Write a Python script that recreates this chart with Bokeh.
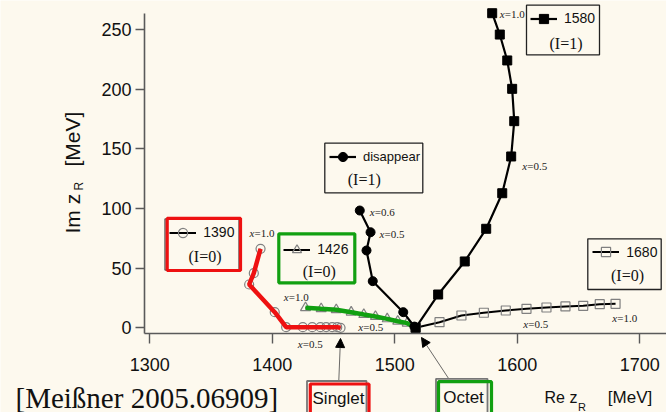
import math
from bokeh.plotting import figure
from bokeh.models import (Range1d, FixedTicker, Label, BoxAnnotation, Arrow,
                          NormalHead, Legend, LegendItem)
from bokeh.embed import file_html
from bokeh.resources import INLINE

# ---------------- data (Re z_R, Im z_R in MeV) ----------------
re_1580 = [1579.5, 1585.7, 1591.8, 1595.8, 1597.5, 1595.0, 1587.7, 1574.6, 1557.1, 1535.4, 1517.0]
im_1580 = [263.7, 245.8, 224.1, 200.3, 173.2, 143.6, 112.8, 83.0, 55.6, 27.9, 0.0]

re_1680 = [1517.0, 1536.5, 1554.4, 1572.7, 1590.6, 1607.5, 1623.8, 1639.3, 1653.8, 1667.3, 1680.2]
im_1680 = [0.0, 4.7, 10.3, 12.6, 14.5, 15.9, 17.0, 17.9, 18.4, 19.8, 20.1]

re_dis = [1471.4, 1480.2, 1476.9, 1482.0, 1506.9, 1516.0]
im_dis = [98.3, 80.1, 64.8, 39.1, 13.1, 1.0]

re_1390 = [1390.4, 1384.9, 1381.1, 1402.0, 1411.3, 1424.9, 1432.6, 1439.3, 1444.0, 1448.9, 1453.0, 1455.7]
im_1390 = [66.2, 45.8, 36.3, 13.1, 0.5, 0.5, 0.5, 0.5, 0.5, 0.5, 0.5, 0.0]

re_1426 = [1427.1, 1439.9, 1452.2, 1464.4, 1474.7, 1484.2, 1493.8, 1502.4, 1510.1, 1516.9]
im_1426 = [16.8, 15.9, 15.1, 13.1, 11.1, 9.5, 7.5, 5.5, 3.9, 0.3]

x_ticks = [1300, 1400, 1500, 1600, 1700]
y_ticks = [0, 50, 100, 150, 200, 250]

legend_names = ["1390", "1426", "disappear", "1580", "1680"]
isospin_tags = ["(I=0)", "(I=0)", "(I=1)", "(I=1)", "(I=0)"]
x_tags = ["1.0", "0.5", "0.6", "0.5", "1.0", "0.5", "1.0", "0.5", "0.5", "1.0"]

# ---------------- layout helpers ----------------
BG = "#fdf9ee"
INK = "#111111"
SANS = "Liberation Sans"
SERIF = "Liberation Serif"
W, H = 666, 412
AX_L, AX_B, AX_T = 144, 333, 13            # axis lines (pixels)
XMIN, XS = 1295.67, 1.225                  # value at AX_L, px per MeV
YMIN, YS = -4.78, 1.193                    # value at AX_B, px per MeV


def X(px):
    return XMIN + (px - AX_L) / XS


def Y(py):
    return YMIN + (AX_B - py) / YS


# the frame covers the whole canvas; axes are pinned with fixed_location
p = figure(width=W, height=H, output_backend="svg", toolbar_location=None,
           x_range=Range1d(X(0), X(W)), y_range=Range1d(Y(H), Y(0)),
           min_border=0, background_fill_color=BG,
           border_fill_color=BG, outline_line_color=None)
p.grid.visible = False

for ax in (p.xaxis[0], p.yaxis[0]):
    ax.axis_line_color = "#5a5a5a"
    ax.axis_line_width = 1.6
    ax.major_tick_line_color = "#5a5a5a"
    ax.major_tick_line_width = 1.4
    ax.major_tick_in = 0
    ax.minor_tick_line_color = None
    ax.major_label_text_font = SANS
    ax.major_label_text_font_size = "18px"
    ax.major_label_text_color = INK
p.xaxis.ticker = FixedTicker(ticks=x_ticks)
p.yaxis.ticker = FixedTicker(ticks=y_ticks)
p.xaxis.fixed_location = Y(AX_B)
p.yaxis.fixed_location = X(AX_L)
p.xaxis.bounds = (X(AX_L), X(W))
p.yaxis.bounds = (Y(AX_B), Y(AX_T))
p.xaxis.major_tick_out = 10
p.yaxis.major_tick_out = 9
p.xaxis.major_label_standoff = 14
p.yaxis.major_label_standoff = 4

# ---------------- trajectories ----------------
GRAY = "#808080"
l1390 = p.line(re_1390, im_1390, line_color="black", line_width=2)
m1390 = p.scatter(re_1390, im_1390, marker="circle", size=9, fill_color=None,
                  line_color=GRAY, line_width=1.2)
p.line(re_1390, im_1390, line_color="#ee1111", line_width=4.5)

l1426 = p.line(re_1426, im_1426, line_color="black", line_width=2)
m1426 = p.scatter(re_1426[:-1], im_1426[:-1], marker="triangle", size=10,
                  fill_color=None, line_color=GRAY, line_width=1.2)
p.line(re_1426, im_1426, line_color="#11a011", line_width=4.5)

l1680 = p.line(re_1680, im_1680, line_color="black", line_width=2)
m1680 = p.scatter(re_1680, im_1680, marker="square", size=9, fill_color=None,
                  line_color=GRAY, line_width=1.2)

ldis = p.line(re_dis, im_dis, line_color="black", line_width=2.2)
mdis = p.scatter(re_dis, im_dis, marker="circle", size=9, fill_color="black",
                 line_color="black")

l1580 = p.line(re_1580, im_1580, line_color="black", line_width=2.2)
m1580 = p.scatter(re_1580, im_1580, marker="square", size=9, fill_color="black",
                  line_color="black")


# ---------------- boxes ----------------
def box(l, r, t, b, color, width):
    p.add_layout(BoxAnnotation(left=X(l), right=X(r), top=Y(t), bottom=Y(b),
                               fill_alpha=0, line_alpha=1, line_color=color,
                               line_width=width, level="overlay"))


def label(px, py, text, size, font=SANS, align="left", angle=0.0,
          style="normal", color=INK):
    p.add_layout(Label(x=X(px), y=Y(py), text=text, text_font=font,
                       text_font_size=size, text_font_style=style,
                       text_align=align, text_baseline="middle",
                       text_color=color, angle=angle))


box(164.5, 238.5, 218.5, 269.5, "#666666", 1.5)
box(166.7, 240.0, 217.8, 270.0, "#ee1111", 3.2)
box(278.3, 354.3, 233.3, 282.3, "#11a011", 3.2)
box(324.3, 422.3, 142.7, 192.3, "#222222", 1.3)
box(526.0, 599.0, 4.7, 54.3, "#222222", 1.3)
box(587.3, 660.7, 238.3, 289.0, "#222222", 1.3)

# legend samples (library legends, one per box)
GH = 23
leg_specs = [
    ([l1390, m1390], 169.3, 232.3, "14px"),
    ([l1426, m1426], 283.3, 249.3, "14px"),
    ([ldis, mdis], 329.0, 156.7, "13px"),
    ([l1580, m1580], 530.0, 18.3, "14px"),
    ([l1680, m1680], 592.3, 251.7, "14px"),
]
for name, (rends, gx, gy, fs) in zip(legend_names, leg_specs):
    leg = Legend(items=[LegendItem(label=name, renderers=rends)],
                 location=(gx, H - (gy + GH / 2)), padding=0, margin=0,
                 spacing=0, glyph_width=27, glyph_height=GH, label_height=GH,
                 label_standoff=7, border_line_alpha=0, background_fill_alpha=0,
                 label_text_font=SANS, label_text_font_size=fs,
                 label_text_color=INK)
    p.add_layout(leg)

tag_pos = [(204.5, 255.7), (318.8, 271.0), (363.8, 179.3), (565.5, 42.7), (627.0, 275.0)]
for t, (tx, ty) in zip(isospin_tags, tag_pos):
    label(tx, ty, t, "16px", font=SERIF, align="center")

# ---------------- x = ... parameter tags ----------------
x_tag_pos = [(499.3, 13.3), (521.7, 165.7), (369.3, 211.7), (379.0, 233.3),
             (249.0, 232.7), (297.3, 343.3), (283.3, 296.7), (357.7, 326.0),
             (522.7, 323.3), (611.7, 317.3)]
for t, (tx, ty) in zip(x_tags, x_tag_pos):
    label(tx, ty, "x", "11px", font=SERIF, style="italic", color="#222222")
    label(tx + 5, ty, "=" + t, "11px", font=SERIF, color="#222222")

# ---------------- axis titles ----------------
label(544, 397.3, "Re z", "16px")
label(577.5, 406, "R", "11px")
label(607.3, 397.3, "[MeV]", "17px")

label(71.7, 233, "Im z", "21px", angle=math.pi / 2)
label(78, 190, "R", "12px", angle=math.pi / 2)
label(71.7, 166, "[MeV]", "21px", angle=math.pi / 2)

# ---------------- citation ----------------
label(15, 397, "[Meißner 2005.06909]", "29px", font=SERIF)

# ---------------- Singlet / Octet boxes with arrows ----------------
box(306.5, 366.0, 380.5, 425.0, "#777777", 1.8)
box(309.8, 368.5, 383.5, 425.0, "#ee1111", 3.2)
box(435.5, 487.0, 378.3, 425.0, "#777777", 1.8)
box(438.0, 491.0, 381.2, 425.0, "#11a011", 3.2)
label(338, 398.3, "Singlet", "17px", align="center")
label(463, 397.3, "Octet", "17px", align="center")

p.add_layout(Arrow(end=NormalHead(size=9, fill_color="black", line_color="black"),
                   x_start=X(338.3), y_start=Y(380), x_end=X(340), y_end=Y(338),
                   line_color="#444444", line_width=0.8))
p.add_layout(Arrow(end=NormalHead(size=9, fill_color="black", line_color="black"),
                   x_start=X(448.3), y_start=Y(378.3), x_end=X(421), y_end=Y(337),
                   line_color="#444444", line_width=0.8))

open("out.html", "w").write(file_html(p, INLINE))
